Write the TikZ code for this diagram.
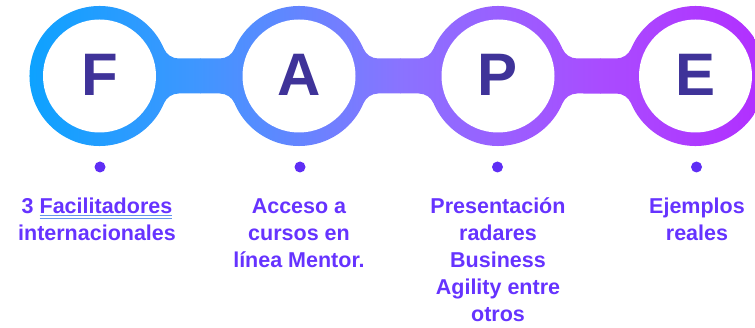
\documentclass[tikz,border=0pt]{standalone}
\usepackage{fontspec}
\setmainfont{Liberation Sans}
\usetikzlibrary{calc}
\definecolor{g0}{HTML}{0DA2FF}
\definecolor{g1}{HTML}{4096FF}
\definecolor{g2}{HTML}{8A73FF}
\definecolor{g3}{HTML}{A94CFF}
\definecolor{g4}{HTML}{B22EFF}
\definecolor{lettc}{HTML}{3F3399}
\definecolor{txtc}{HTML}{6633FF}
\definecolor{dotc}{HTML}{5F2EF5}
\definecolor{ulblue}{HTML}{6495ED}
\newcommand\dblul[1]{\setbox0\hbox{#1}\rlap{\color{ulblue}\rule[-3.4pt]{\wd0}{1pt}}\rlap{\color{ulblue}\rule[-5.8pt]{\wd0}{1pt}}\box0}
\begin{document}
\begin{tikzpicture}[x=1pt,y=1pt,
  letter/.style={text=lettc,font=\fontsize{60}{60}\selectfont\bfseries,anchor=base,inner sep=0pt},
  lbl/.style={text=txtc,font=\fontsize{21.5}{27}\selectfont\bfseries,align=center,anchor=base,inner sep=0pt},
  dot/.style={circle,fill=dotc,minimum size=11pt,inner sep=0pt}]
\useasboundingbox (0,0) rectangle (755,327);
\clip (0,0) rectangle (755,327);
\coordinate (c1) at (99.5,251);
\coordinate (c2) at (299,251);
\coordinate (c3) at (498,251);
\coordinate (c4) at (695.5,251);
\def\dx{79.207}
\begin{scope}
\clip ($(c1)+(-22.93:70)$)
  arc[start angle=-22.93,end angle=-337.07,radius=70]
  arc[start angle=202.93,end angle=270,radius=16]
  -- ($(c2)+(-\dx,17.5)$)
  arc[start angle=270,end angle=337.07,radius=16]
  arc[start angle=157.07,end angle=22.93,radius=70]
  arc[start angle=202.93,end angle=270,radius=16]
  -- ($(c3)+(-\dx,17.5)$)
  arc[start angle=270,end angle=337.07,radius=16]
  arc[start angle=157.07,end angle=22.93,radius=70]
  arc[start angle=202.93,end angle=270,radius=16]
  -- ($(c4)+(-\dx,17.5)$)
  arc[start angle=270,end angle=337.07,radius=16]
  arc[start angle=157.07,end angle=-157.07,radius=70]
  arc[start angle=22.93,end angle=90,radius=16]
  -- ($(c3)+(\dx,-17.5)$)
  arc[start angle=90,end angle=157.07,radius=16]
  arc[start angle=-22.93,end angle=-157.07,radius=70]
  arc[start angle=22.93,end angle=90,radius=16]
  -- ($(c2)+(\dx,-17.5)$)
  arc[start angle=90,end angle=157.07,radius=16]
  arc[start angle=-22.93,end angle=-157.07,radius=70]
  arc[start angle=22.93,end angle=90,radius=16]
  -- ($(c1)+(\dx,-17.5)$)
  arc[start angle=90,end angle=157.07,radius=16]
  -- cycle;
\shade[left color=g0,right color=g1] (28,170) rectangle (200.5,330);
\shade[left color=g1,right color=g2] (200,170) rectangle (400.5,330);
\shade[left color=g2,right color=g3] (400,170) rectangle (600.5,330);
\shade[left color=g3,right color=g4] (600,170) rectangle (768,330);
\end{scope}
\foreach \c in {c1,c2,c3,c4} \fill[white] (\c) circle[radius=56.5];
\node[letter] (lF) at (99.5,231) {F};
\node[letter] (lA) at (299,231) {A};
\node[letter] (lP) at (498,231) {P};
\node[letter] (lE) at (695.5,231) {E};
\node[dot] (d1) at (100,160) {};
\node[dot] (d2) at (300,160) {};
\node[dot] (d3) at (497.5,160) {};
\node[dot] (d4) at (696.5,160) {};
\node[lbl] (t1) at (97,87) {3 \dblul{Facilitadores}\\internacionales};
\node[lbl] (t2) at (299,60) {Acceso a\\cursos en\\línea Mentor.};
\node[lbl] (t3) at (498,6) {Presentación\\radares\\Business\\Agility entre\\otros};
\node[lbl] (t4) at (697,87) {Ejemplos\\reales};
\end{tikzpicture}
\end{document}
